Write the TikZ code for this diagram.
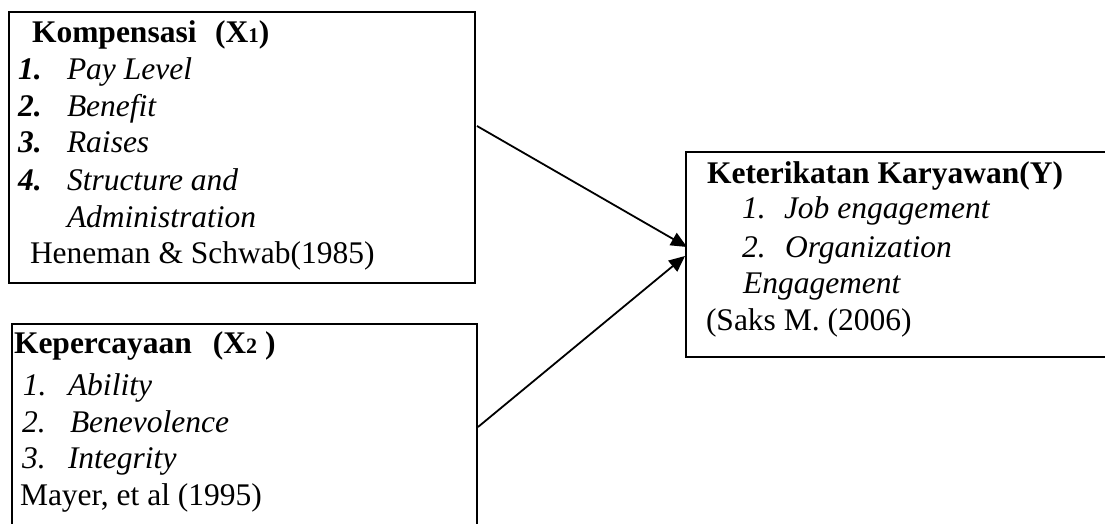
\documentclass[tikz,border=0pt]{standalone}
\usepackage{fontspec}
\setmainfont{Liberation Serif}
\usetikzlibrary{arrows.meta}
\newcommand\fsz{\fontsize{31.5}{36}\selectfont}
\begin{document}
\begin{tikzpicture}[x=1pt,y=-1pt,
  boxnode/.style={draw,line width=2.4pt,inner sep=0pt,outer sep=0pt},
  txt/.style={anchor=base west,inner sep=0pt,outer sep=0pt,font=\fsz},
  arr/.style={line width=1.8pt,-{Triangle[length=16pt,width=14pt]}}]
\useasboundingbox (0,0) rectangle (1105,524);
\clip (0,0) rectangle (1105,524);
% boxes
\node[boxnode,minimum width=466pt,minimum height=271pt] (k) at (242,147.5) {};
\node[boxnode,minimum width=465pt,minimum height=216pt] (p) at (244.5,432) {};
\node[boxnode,minimum width=429pt,minimum height=205pt] (y) at (900.5,254.5) {};
% box 1 text
\node[txt] (k0) at (32,43) {\textbf{Kompensasi\hspace{18.5pt}(X{\fontsize{21}{21}\selectfont 1})}};
\node[txt] (k1n) at (18,80) {\textbf{\textit{1.}}};
\node[txt] (k1) at (67,80) {\textit{Pay Level}};
\node[txt] (k2n) at (18,117) {\textbf{\textit{2.}}};
\node[txt] (k2) at (67,117) {\textit{Benefit}};
\node[txt] (k3n) at (18,153) {\textbf{\textit{3.}}};
\node[txt] (k3) at (67,153) {\textit{Raises}};
\node[txt] (k4n) at (18,190) {\textbf{\textit{4.}}};
\node[txt] (k4) at (67,190) {\textit{Structure and}};
\node[txt] (k5) at (67,227) {\textit{Administration}};
\node[txt] (k6) at (30,263) {Heneman \& Schwab(1985)};
% box 2 text
\node[txt] (p0) at (14,353) {\textbf{Kepercayaan\hspace{21pt}(X{\fontsize{22}{22}\selectfont 2}\hspace{8pt})}};
\node[txt] (p1n) at (23,395) {\textit{1.}};
\node[txt] (p1) at (68,395) {\textit{Ability}};
\node[txt] (p2n) at (22,432) {\textit{2.}};
\node[txt] (p2) at (70,432) {\textit{Benevolence}};
\node[txt] (p3n) at (22,468) {\textit{3.}};
\node[txt] (p3) at (68,468) {\textit{Integrity}};
\node[txt] (p4) at (20,505) {Mayer, et al (1995)};
% box 3 text
\node[txt] (y0) at (707,183) {\textbf{Keterikatan Karyawan(Y)}};
\node[txt] (y1n) at (742,218) {\textit{1.}};
\node[txt] (y1) at (784,218) {\textit{Job engagement}};
\node[txt] (y2n) at (742,257) {\textit{2.}};
\node[txt] (y2) at (785,257) {\textit{Organization}};
\node[txt] (y3) at (743,293) {\textit{Engagement}};
\node[txt] (y4) at (706,330) {(Saks M. (2006)};
% arrows
\draw[arr] ([shift={(2,-21.5)}]k.east) -- ([shift={(1,-7.5)}]y.west);
\draw[arr] ([shift={(1,-5)}]p.east) -- ([shift={(-1,1.5)}]y.west);
\end{tikzpicture}
\end{document}
